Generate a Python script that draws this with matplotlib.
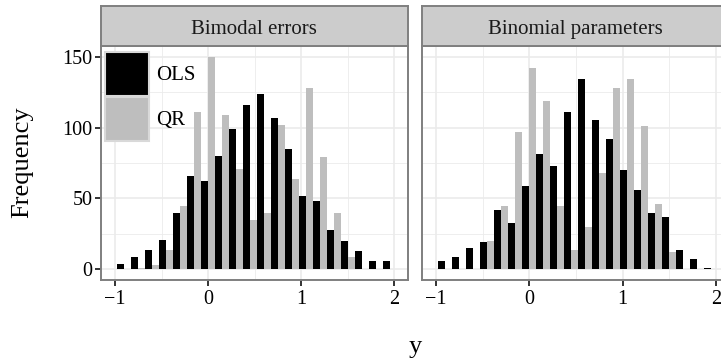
import numpy as np
import matplotlib
matplotlib.use("Agg")
import matplotlib.pyplot as plt
from matplotlib.patches import Rectangle

plt.rcParams['font.family'] = ['Liberation Serif', 'DejaVu Serif']

# Histogram bins shared by both facets
bin_start = -0.975
bin_width = 0.15
n_bins = 20

panels = ["Bimodal errors", "Binomial parameters"]
methods = ["OLS", "QR"]
method_colors = {"OLS": "#000000", "QR": "#bebebe"}

bimodal_ols = [4, 9, 14, 21, 40, 66, 62, 80, 99, 116, 124, 107, 85, 52, 48, 28, 20, 13, 6, 6]
bimodal_qr = [0, 1, 3, 14, 45, 111, 150, 109, 71, 35, 40, 102, 64, 128, 79, 40, 9, 0, 0, 0]
binomial_ols = [6, 9, 15, 19, 42, 33, 59, 81, 73, 111, 134, 105, 92, 70, 56, 40, 37, 14, 7, 1]
binomial_qr = [0, 0, 0, 20, 45, 97, 142, 119, 45, 14, 30, 68, 128, 134, 101, 46, 12, 0, 0, 0]

counts = {
    "Bimodal errors": {"OLS": bimodal_ols, "QR": bimodal_qr},
    "Binomial parameters": {"OLS": binomial_ols, "QR": binomial_qr},
}

x_ticks = [-1, 0, 1, 2]
x_minor = [-0.5, 0.5, 1.5]
y_ticks = [0, 50, 100, 150]
y_minor = [25, 75, 125]
x_lim = (-1.154, 2.147)
y_lim = (-7.5, 157.5)

W, H = 721, 361
fig = plt.figure(figsize=(W / 100, H / 100), dpi=100)

def fig_rect(x0, y0, x1, y1):
    return [x0 / W, 1 - y1 / H, (x1 - x0) / W, (y1 - y0) / H]

panel_top, panel_bot = 46, 280
strip_top = 6
panel_x = [(100.7, 408.0), (421.7, 729.7)]
border = "#7f7f7f"
grid_col = "#ebebeb"

edges = bin_start + bin_width * np.arange(n_bins)

for i, name in enumerate(panels):
    x0, x1 = panel_x[i]
    ax = fig.add_axes(fig_rect(x0, panel_top, x1, panel_bot))
    ax.set_xlim(*x_lim)
    ax.set_ylim(*y_lim)
    for xv in x_minor:
        ax.axvline(xv, color=grid_col, lw=0.6, zorder=0)
    for yv in y_minor:
        ax.axhline(yv, color=grid_col, lw=0.6, zorder=0)
    for xv in x_ticks:
        ax.axvline(xv, color=grid_col, lw=1.2, zorder=0)
    for yv in y_ticks:
        ax.axhline(yv, color=grid_col, lw=1.2, zorder=0)
    half = bin_width / 2
    for j, m in enumerate(methods):
        ax.bar(edges + j * half, counts[name][m], width=half, align="edge",
               color=method_colors[m], linewidth=0, zorder=2)
    for s in ax.spines.values():
        s.set_color(border)
        s.set_linewidth(1.4)
        s.set_zorder(5)
    ax.set_xticks(x_ticks)
    ax.set_xticklabels(["\u22121", "0", "1", "2"])
    ax.tick_params(axis="both", direction="out", length=4, width=1.4,
                   color="#333333", labelsize=14.5, labelcolor="black", pad=2)
    ax.tick_params(axis="x", pad=3)
    ax.set_yticks(y_ticks)
    if i > 0:
        ax.tick_params(axis="y", length=0, labelleft=False)

    # facet strip
    sax = fig.add_axes(fig_rect(x0, strip_top, x1, panel_top))
    sax.set_facecolor("#cccccc")
    sax.set_xticks([])
    sax.set_yticks([])
    for s in sax.spines.values():
        s.set_color(border)
        s.set_linewidth(1.4)
    sax.text(0.5, 0.42, name, transform=sax.transAxes, ha="center",
             va="center", fontsize=15, color="#1a1a1a")

    if i == 0:
        # legend keys drawn inside the first panel
        key_w, key_h = 44, 44
        lx, ly = 105, 52
        for k, m in enumerate(methods):
            ky = ly + k * (key_h + 1)
            fig.patches.append(Rectangle((lx / W, 1 - (ky + key_h) / H),
                                         key_w / W, key_h / H,
                                         transform=fig.transFigure,
                                         facecolor=method_colors[m],
                                         edgecolor="#d9d9d9", lw=1.5,
                                         zorder=10))
            fig.text((lx + key_w + 7) / W, 1 - (ky + key_h / 2 + 2) / H, m,
                     ha="left", va="center", fontsize=15, zorder=11)

fig.text(22 / W, 1 - 162 / H, "Frequency", rotation=90, ha="center",
         va="center", fontsize=19)
fig.text(415 / W, 1 - 347 / H, "y", ha="center", va="center", fontsize=19)

fig.savefig("out.png", dpi=100)
